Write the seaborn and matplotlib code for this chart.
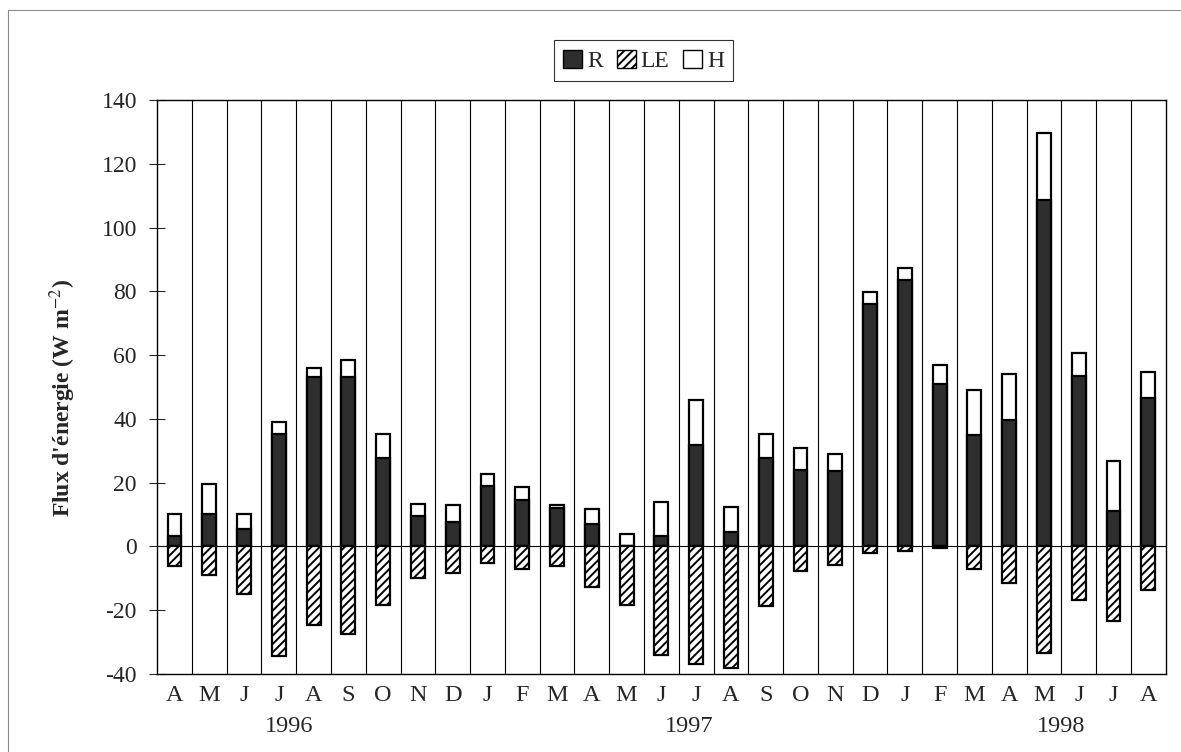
import numpy as np
import pandas as pd
import matplotlib
matplotlib.use("Agg")
import matplotlib.pyplot as plt
import matplotlib.transforms as mtransforms
from matplotlib.patches import Patch
from matplotlib.lines import Line2D
import seaborn as sns

# mois avril 1996 -> aout 1998
months = ['A', 'M', 'J', 'J', 'A', 'S', 'O', 'N', 'D',
          'J', 'F', 'M', 'A', 'M', 'J', 'J', 'A', 'S', 'O', 'N', 'D',
          'J', 'F', 'M', 'A', 'M', 'J', 'J', 'A']
years = ['1996', '1997', '1998']
year_pos = [3.3, 14.8, 25.5]

# flux (W m-2)
R = [3.4, 10.3, 5.6, 35.3, 53.2, 53.2, 27.7, 9.7, 7.7,
     18.9, 14.6, 12.0, 7.2, 0.0, 3.2, 31.7, 4.6, 27.8, 24.0, 23.6, 76.0,
     83.5, 51.0, 35.0, 39.6, 108.5, 53.3, 11.2, 46.6]
H = [6.7, 9.2, 4.7, 3.6, 2.8, 5.3, 7.5, 3.7, 5.4,
     3.7, 4.0, 0.9, 4.5, 3.8, 10.8, 14.2, 7.9, 7.5, 7.0, 5.4, 3.8,
     3.7, 5.8, 14.2, 14.4, 21.0, 7.3, 15.5, 8.2]
LE = [-6.2, -9.0, -15.0, -34.5, -24.6, -27.5, -18.3, -9.8, -8.3,
      -5.2, -7.1, -6.0, -12.6, -18.3, -34.0, -36.8, -38.2, -18.8, -7.6, -5.8, -2.2,
      -1.5, -0.6, -7.2, -11.5, -33.5, -16.8, -23.3, -13.6]

df = pd.DataFrame({'idx': np.arange(len(months)), 'R': R, 'H': H, 'LE': LE})
df['RH'] = df['R'] + df['H']  # H empile sur R

sns.set_style('white')
plt.rcParams['font.family'] = ['Liberation Serif', 'DejaVu Serif']
plt.rcParams['mathtext.fontset'] = 'stix'
plt.rcParams['hatch.linewidth'] = 1.4
plt.rcParams['axes.unicode_minus'] = False

fig = plt.figure(figsize=(11.81, 7.52), dpi=100)
ax = fig.add_axes([0.133, 0.1037, 0.854, 0.7633])

dark = '#2e2e2e'
bar_kw = dict(width=0.4, saturation=1, edgecolor='black', linewidth=1.6,
              errorbar=None, ax=ax, order=list(df['idx']))

sns.barplot(data=df, x='idx', y='RH', color='white', **bar_kw)
sns.barplot(data=df, x='idx', y='R', color=dark, **bar_kw)
sns.barplot(data=df, x='idx', y='LE', color='white', hatch='////', **bar_kw)

ax.axhline(0, color='black', linewidth=0.8, zorder=0.5)

ax.set_xlim(-0.5, len(months) - 0.5)
ax.set_ylim(-40, 140)
ax.set_yticks(range(-40, 141, 20))
ax.set_xticks(range(len(months)))
ax.set_xticklabels(months)
ax.set_xticks(np.arange(0.5, len(months) - 1, 1), minor=True)
ax.grid(False)
ax.grid(which='minor', axis='x', color='black', linewidth=0.8)
ax.set_axisbelow(True)

ax.tick_params(axis='y', direction='inout', length=11, width=0.8, labelsize=17, pad=9, left=True)
ax.tick_params(axis='x', which='both', length=0, labelsize=17.5, pad=8)
for s in ax.spines.values():
    s.set_color('black')
    s.set_linewidth(1.0)

ax.set_xlabel('')
ax.set_ylabel("Flux d'énergie (W m$^{-2}$)", fontsize=17, fontweight='bold')
ax.yaxis.set_label_coords(-0.078, 0.48)

trans = mtransforms.blended_transform_factory(ax.transData, ax.transAxes)
for yr, p in zip(years, year_pos):
    ax.text(p, -0.091, yr, transform=trans, ha='center', va='center', fontsize=17.5)

handles = [Patch(facecolor=dark, edgecolor='black'),
           Patch(facecolor='white', edgecolor='black', hatch='////'),
           Patch(facecolor='white', edgecolor='black')]
leg = fig.legend(handles, ['R', 'LE', 'H'], loc='center', bbox_to_anchor=(0.545, 0.919),
                 ncol=3, frameon=True, fancybox=False, edgecolor='black', fontsize=17,
                 handlelength=0.8, handleheight=0.8, handletextpad=0.2,
                 columnspacing=0.6, borderpad=0.4)
leg.get_frame().set_linewidth(0.8)

# cadre de la page
fig.add_artist(Line2D([8 / 1181, 8 / 1181], [0, 1 - 10 / 752], color='0.55', lw=0.8))
fig.add_artist(Line2D([8 / 1181, 1], [1 - 10 / 752, 1 - 10 / 752], color='0.55', lw=0.8))

fig.savefig('out.png', dpi=100)
